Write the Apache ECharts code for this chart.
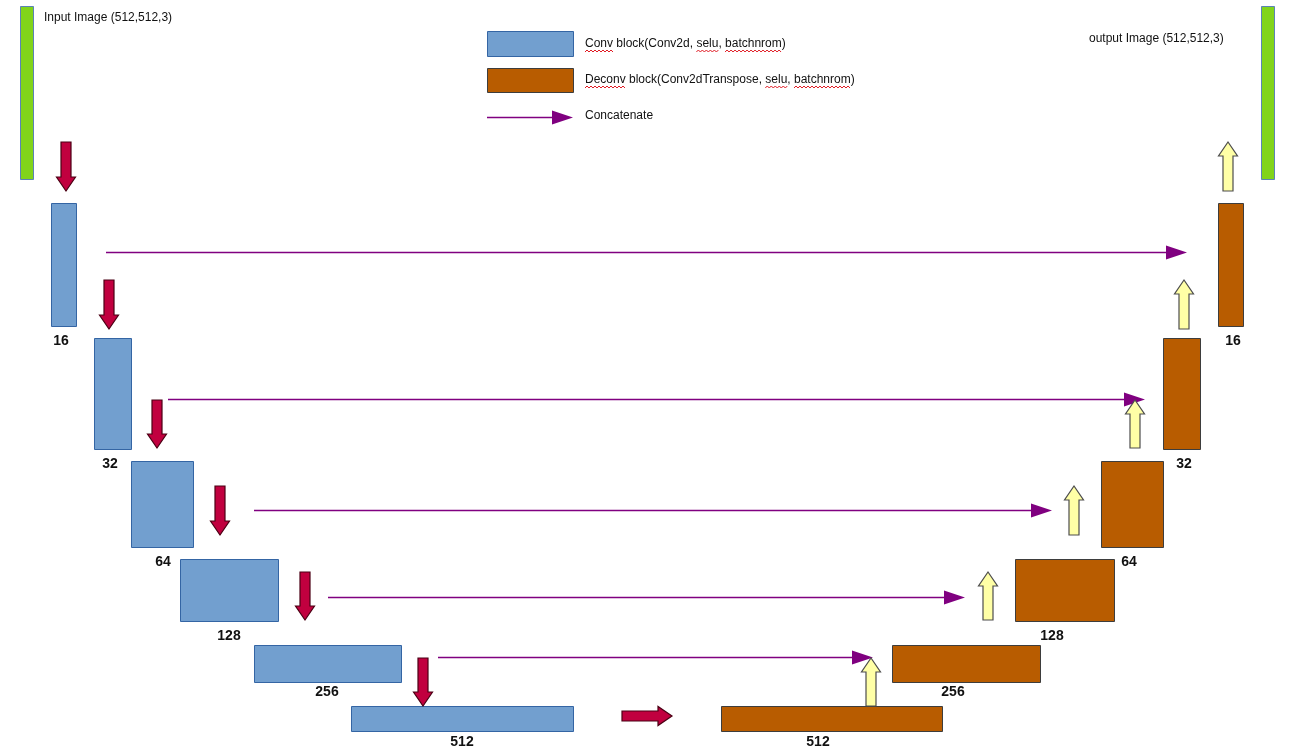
<!DOCTYPE html>
<html><head><meta charset="utf-8">
<script src="https://cdn.jsdelivr.net/npm/echarts@6/dist/echarts.min.js"></script>
<style>html,body{margin:0;padding:0;background:#fff}#c{width:1309px;height:752px}</style>
</head><body><div id="c"></div>
<script>
// Diagram data (diagram units; x to the right, y downward)
const filters = ['16','32','64','128','256','512'];
const encX = [[51,76],[94,131],[131,193],[180,278],[254,401],[351,573]];
const decX = [[1218,1243],[1163,1200],[1101,1163],[1015,1114],[892,1040],[721,942]];
const levelY = [[203,326],[338,449],[461,547],[559,621],[645,682],[706,731]];
const encLabelX = [61,110,163,229,327,462];
const decLabelX = [1233,1184,1129,1052,953,818];
const labelY = [341,464,562,636,692,742];
const downArrowX = [66,109,157,220,305,423];
const downArrowY = [[142,191],[280,329],[400,448],[486,535],[572,620],[658,706]];
const upArrowX = [1228,1184,1135,1074,988,871];
const upArrowY = [[191,142],[329,280],[448,400],[535,486],[620,572],[706,658]];
const concatY = [252,399,510,597,657];
const concatX = [[106,1187],[168,1145],[254,1052],[328,965],[438,873]];
const bottleneckArrow = [622,716,672,716];
const imageBars = [[20,33,6,179],[1261,1274,6,179]];
const imageTexts = ['Input Image (512,512,3)','output Image (512,512,3)'];
const imageTextPos = [[44,18],[1089,39]];
const legendTexts = ['Conv block(Conv2d, selu, batchnrom)','Deconv block(Conv2dTranspose, selu, batchnrom)','Concatenate'];
const legendBoxes = [[487,573,31,56],[487,573,68,92]];
const legendArrow = [487,117,573,117];
const legendTextPos = [[585,44],[585,80],[585,116]];
const spellWords = [[0,'Conv'],[0,'selu'],[0,'batchnrom'],[1,'Deconv'],[1,'selu'],[1,'batchnrom']];

const C = {
  blue:'#729fcf', blueS:'#3465a4', brown:'#b85c00', brownS:'#3d3d3d',
  red:'#c1003f', redS:'#4b0014', yellow:'#ffffa6', yellowS:'#4d4d4d',
  green:'#81d41a', greenS:'#5b83b5', purple:'#800080'
};
const SMALL = '12px "Liberation Sans", Arial, sans-serif';
const NUM = 'bold 14px "Liberation Sans", Arial, sans-serif';

function rectSeries(rows, fill, stroke, z) {
  return {
    type:'custom', coordinateSystem:'cartesian2d', z:z||2, silent:true, clip:false,
    data: rows.map(r => r.slice()),
    renderItem(params, api) {
      const a = api.coord([api.value(0), api.value(2)]);
      const b = api.coord([api.value(1), api.value(3)]);
      return {type:'rect', shape:{x:a[0]+0.5,y:a[1]+0.5,width:b[0]-a[0],height:b[1]-a[1]},
        style:{fill:fill, stroke:stroke, lineWidth:1}};
    }
  };
}
function blockArrowSeries(rows, fill, stroke, z) {
  return {
    type:'custom', coordinateSystem:'cartesian2d', z:z||4, silent:true, clip:false,
    data: rows,
    renderItem(params, api) {
      const p0 = api.coord([api.value(0), api.value(1)]);
      const p1 = api.coord([api.value(2), api.value(3)]);
      const dx=p1[0]-p0[0], dy=p1[1]-p0[1], L=Math.hypot(dx,dy);
      const ux=dx/L, uy=dy/L, nx=-uy, ny=ux;
      const s=5, h=9.5, hl=14;
      const bx=p1[0]-ux*hl, by=p1[1]-uy*hl;
      const pts=[[p0[0]+nx*s,p0[1]+ny*s],[bx+nx*s,by+ny*s],[bx+nx*h,by+ny*h],[p1[0],p1[1]],
        [bx-nx*h,by-ny*h],[bx-nx*s,by-ny*s],[p0[0]-nx*s,p0[1]-ny*s]];
      return {type:'polygon', shape:{points:pts}, style:{fill:fill, stroke:stroke, lineWidth:1.2}};
    }
  };
}
function lineArrowSeries(rows, z) {
  return {
    type:'custom', coordinateSystem:'cartesian2d', z:z||1, silent:true, clip:false,
    data: rows,
    renderItem(params, api) {
      const p0 = api.coord([api.value(0), api.value(1)]);
      const p1 = api.coord([api.value(2), api.value(3)]);
      const hl=21, hh=7;
      return {type:'group', children:[
        {type:'line', shape:{x1:p0[0],y1:p0[1]+0.5,x2:p1[0]-hl+1,y2:p1[1]+0.5}, style:{stroke:C.purple, lineWidth:1.3}},
        {type:'polygon', shape:{points:[[p1[0],p1[1]+0.5],[p1[0]-hl,p1[1]-hh+0.5],[p1[0]-hl,p1[1]+hh+0.5]]}, style:{fill:C.purple}}
      ]};
    }
  };
}
function textSeries(texts, pos, font, align, z) {
  return {
    type:'custom', coordinateSystem:'cartesian2d', z:z||6, silent:true, clip:false,
    data: pos.map(p => p.slice()),
    renderItem(params, api) {
      const p = api.coord([api.value(0), api.value(1)]);
      return {type:'text', style:{text:texts[params.dataIndex], x:p[0], y:p[1], font:font,
        fill:'#111', align:align, verticalAlign:'middle'}};
    }
  };
}

// spell-check squiggles computed from text metrics
const mctx = document.createElement('canvas').getContext('2d');
mctx.font = SMALL;
const squiggleRows = spellWords.map(([li, w]) => {
  const t = legendTexts[li];
  const idx = t.indexOf(w);
  const x0 = legendTextPos[li][0] + mctx.measureText(t.slice(0, idx)).width;
  const x1 = x0 + mctx.measureText(w).width;
  return [x0, x1, legendTextPos[li][1] + 7];
});
const squiggleSeries = {
  type:'custom', coordinateSystem:'cartesian2d', z:7, silent:true, clip:false,
  data: squiggleRows,
  renderItem(params, api) {
    const a = api.coord([api.value(0), api.value(2)]);
    const b = api.coord([api.value(1), api.value(2)]);
    const pts = [];
    let k = 0;
    for (let x = a[0]; x <= b[0]; x += 2) { pts.push([x, a[1] + (k % 2 ? -1 : 1)]); k++; }
    return {type:'polyline', shape:{points:pts}, style:{stroke:'#e01b24', lineWidth:1, fill:null}};
  }
};

const series = [
  ...concatY.map((y,i)=>null).slice(0,0),
  lineArrowSeries(concatY.map((y,i)=>[concatX[i][0], y, concatX[i][1], y]), 1),
  lineArrowSeries([legendArrow], 1),
  rectSeries(imageBars, C.green, C.greenS, 2),
  rectSeries(encX.map((x,i)=>[x[0],x[1],levelY[i][0],levelY[i][1]]), C.blue, C.blueS, 2),
  rectSeries(decX.map((x,i)=>[x[0],x[1],levelY[i][0],levelY[i][1]]), C.brown, C.brownS, 2),
  rectSeries([legendBoxes[0]], C.blue, C.blueS, 2),
  rectSeries([legendBoxes[1]], C.brown, C.brownS, 2),
  blockArrowSeries(downArrowX.map((x,i)=>[x, downArrowY[i][0], x, downArrowY[i][1]]).concat([bottleneckArrow]), C.red, C.redS, 4),
  blockArrowSeries(upArrowX.map((x,i)=>[x, upArrowY[i][0], x, upArrowY[i][1]]), C.yellow, C.yellowS, 4),
  textSeries(filters, encLabelX.map((x,i)=>[x, labelY[i]]), NUM, 'center', 6),
  textSeries(filters, decLabelX.map((x,i)=>[x, labelY[i]]), NUM, 'center', 6),
  textSeries(imageTexts, imageTextPos, SMALL, 'left', 6),
  textSeries(legendTexts, legendTextPos, SMALL, 'left', 6),
  squiggleSeries
];

const chart = echarts.init(document.getElementById('c'), null, {renderer:'canvas'});
chart.setOption({
  animation:false,
  backgroundColor:'#ffffff',
  grid:{left:0, right:0, top:0, bottom:0},
  xAxis:{type:'value', min:0, max:1309, show:false},
  yAxis:{type:'value', min:0, max:752, inverse:true, show:false},
  series: series
});
</script></body></html>
